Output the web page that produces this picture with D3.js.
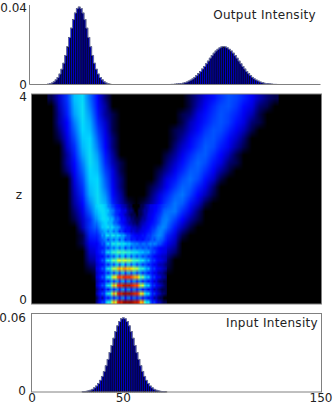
<!DOCTYPE html>
<html>
<head>
<meta charset="utf-8">
<script src="https://cdn.jsdelivr.net/npm/d3@7"></script>
<style>
    html, body { margin: 0; padding: 0; background: #fff; overflow: hidden; }
    text { font-family: "DejaVu Sans", sans-serif; fill: #222; }
</style>
</head>
<body>
<div id="chart"></div>
<script>
// intensities are in units of 1e-4
const outputLeftStart = 8;
const outputLeft = [2,4,8,14,24,36,54,79,110,150,195,243,291,335,369,392,400,392,369,335,291,243,195,150,110,79,54,36,24,14,8,4,2];
const outputRightStart = 72;
const outputRight = [1,1,2,3,4,5,7,10,13,18,23,29,37,46,56,67,80,93,107,121,136,149,162,173,182,189,194,195,194,189,182,173,162,149,136,121,107,93,80,67,56,46,37,29,23,18,13,10,7,5,4,3,2,1,1,1];
const inputStart = 26;
const inputValues = [2,3,6,9,14,21,32,46,65,90,120,158,202,251,303,358,414,465,509,542,563,570,563,542,509,465,414,358,303,251,202,158,120,90,65,46,32,21,14,9,6,3,2,1];

const xTicks = [0, 50, 150];
const zTicks = [0, 4];
const outputTicks = [0, 400];
const inputTicks = [0, 600];

// field, coarse: columns are 4 x-units wide, from heatFirstCol, rows from z=4 down
const heatFirstCol = 2;
const heatColWidth = 4;
const heatRows = [
[1,5,18,35,39,25,10,2,0,0,0,0,0,0,0,0,0,0,1,3,6,12,18,22,20,15,9,4,2,1],
[0,4,16,33,40,27,11,3,0,0,0,0,0,0,0,0,0,0,1,4,9,16,21,22,18,11,6,2,1,0],
[0,3,14,31,40,30,13,3,1,0,0,0,0,0,0,0,0,1,2,6,12,18,22,20,15,8,4,1,0,0],
[0,3,10,27,39,33,16,5,1,0,0,0,0,0,0,0,0,1,4,8,14,20,22,19,12,6,2,1,0,0],
[0,2,9,24,38,35,20,6,1,0,0,0,0,0,0,0,1,2,5,11,18,22,21,15,8,4,1,0,0,0],
[0,1,6,21,36,38,23,8,2,0,0,0,0,0,0,0,1,3,8,15,21,22,18,11,5,2,0,0,0,0],
[0,0,5,17,34,39,26,10,2,0,0,0,0,0,0,0,2,5,11,18,23,21,14,8,3,1,0,0,0,0],
[0,0,3,14,31,40,30,13,3,0,0,0,0,0,0,1,3,8,16,22,23,17,10,4,1,0,0,0,0,0],
[0,0,3,11,27,40,33,16,4,1,0,0,0,0,0,2,5,12,20,24,21,13,6,2,1,0,0,0,0,0],
[0,0,2,9,24,38,35,20,6,1,0,0,0,0,1,3,8,16,23,23,17,9,3,1,0,0,0,0,0,0],
[0,0,0,6,21,37,38,23,7,2,0,0,0,0,2,6,13,21,25,21,12,5,1,0,0,0,0,0,0,0],
[0,0,0,5,18,35,39,25,9,2,0,0,0,1,3,9,18,24,23,15,7,2,0,0,0,0,0,0,0,0],
[0,0,0,4,15,33,40,29,11,3,0,0,0,2,6,15,23,26,20,10,4,1,0,0,0,0,0,0,0,0],
[0,0,0,3,11,28,40,33,15,4,1,0,1,3,10,20,26,23,13,5,1,0,0,0,0,0,0,0,0,0],
[0,0,0,2,7,23,38,37,21,6,1,0,1,4,12,25,26,17,7,2,0,0,0,0,0,0,0,0,0,0],
[0,0,0,1,5,17,33,38,26,9,2,1,2,6,18,27,20,10,3,1,0,0,0,0,0,0,0,0,0,0],
[0,0,0,0,4,18,26,38,30,13,4,2,4,10,22,24,13,4,1,0,0,0,0,0,0,0,0,0,0,0],
[0,0,0,0,1,14,17,33,36,18,8,4,8,16,26,16,6,1,0,0,0,0,0,0,0,0,0,0,0,0],
[0,0,0,0,1,8,11,26,38,24,12,8,14,22,26,9,4,0,0,0,0,0,0,0,0,0,0,0,0,0],
[0,0,0,0,0,5,6,18,36,30,18,14,20,26,16,4,2,0,0,0,0,0,0,0,0,0,0,0,0,0],
[0,0,0,0,0,3,4,11,28,36,26,22,24,24,8,2,0,0,0,0,0,0,0,0,0,0,0,0,0,0],
[0,0,0,0,0,1,2,6,20,36,34,30,28,16,4,1,0,0,0,0,0,0,0,0,0,0,0,0,0,0],
[0,0,0,0,0,0,1,3,14,34,38,34,24,8,2,0,0,0,0,0,0,0,0,0,0,0,0,0,0,0],
[0,0,0,0,0,0,0,1,10,30,40,36,20,4,1,0,0,0,0,0,0,0,0,0,0,0,0,0,0,0],
[0,0,0,0,0,0,0,1,8,28,40,36,18,3,0,0,0,0,0,0,0,0,0,0,0,0,0,0,0,0],
[0,0,0,0,0,0,0,1,8,28,40,36,18,3,0,0,0,0,0,0,0,0,0,0,0,0,0,0,0,0]
];

// field, fine: the fringe window, one x-unit per column from fringeFirstX, z from fringeTopZ to 0
const fringeFirstX = 33;
const fringeTopZ = 1.9;
const fringeRows = [
[37,39,40,39,37,34,28,26,21,18,13,11,8,5,4,3,2,1,1,0,0,0,0,1,1,2,3,4,6,7,9,10,12,14,17,19,21],
[34,37,39,40,39,36,36,29,27,24,17,15,14,8,6,6,3,2,2,1,0,0,1,1,2,3,3,5,6,7,10,11,14,16,20,23,24],
[32,35,37,39,39,37,32,30,26,22,17,15,10,9,6,4,3,2,1,1,1,0,1,1,2,3,4,6,7,9,11,14,16,19,22,25,26],
[29,33,36,39,40,38,39,32,34,28,21,22,17,10,11,7,4,4,2,2,1,1,1,2,3,3,5,6,8,10,13,15,19,21,25,26,27],
[25,29,32,35,37,38,33,34,32,24,24,20,14,12,9,6,5,3,3,2,2,1,2,3,4,5,6,8,10,12,14,17,20,23,26,27,27],
[22,26,30,36,36,38,42,34,40,34,30,30,26,17,16,12,8,8,5,4,4,3,3,4,6,6,8,10,13,16,17,21,25,26,28,28,26],
[18,22,26,28,32,33,26,34,32,24,30,26,16,20,14,9,11,9,5,6,5,4,5,6,7,9,11,13,15,19,21,24,26,28,27,25,22],
[15,18,22,30,26,38,42,32,42,42,34,40,36,30,32,26,20,20,14,12,10,10,8,10,13,11,15,18,18,22,24,26,28,28,26,23,18],
[12,16,20,22,26,28,18,28,30,22,32,30,20,30,26,16,20,20,12,14,14,8,12,12,10,14,17,16,20,23,20,24,26,24,23,20,15],
[9,12,16,22,19,30,38,28,42,44,38,46,44,38,42,38,34,36,30,28,26,28,24,22,26,25,22,26,28,25,28,26,22,22,18,14,11],
[9,12,13,13,17,23,16,25,30,22,32,32,22,32,30,18,26,28,18,26,26,20,24,24,20,23,24,19,22,20,16,15,12,10,9,8,7],
[9,12,15,22,19,34,42,34,46,50,46,54,54,48,52,50,46,48,44,42,40,42,36,34,36,30,30,32,24,20,21,15,12,10,8,7,6],
[7,9,11,10,15,22,14,24,28,20,32,34,22,34,34,20,30,32,20,30,28,20,28,26,19,24,22,16,18,14,10,9,7,6,5,5,4],
[7,10,14,22,18,34,44,36,52,56,52,62,64,58,62,62,58,60,56,52,50,52,46,40,44,34,28,32,22,17,19,12,9,8,6,5,4],
[5,7,10,9,14,22,14,24,30,18,32,34,20,34,36,20,32,34,20,32,30,18,28,26,17,23,20,13,16,12,8,8,5,4,4,3,2],
[6,9,14,22,18,34,46,38,56,62,58,70,74,68,74,74,70,72,68,64,60,62,54,46,50,38,30,34,22,16,19,11,8,7,5,4,3],
[4,6,9,8,14,22,13,24,30,16,30,32,18,32,34,18,30,32,18,30,30,17,27,25,15,22,18,11,15,11,6,7,4,3,3,2,1],
[5,8,14,22,18,34,46,38,58,68,62,78,82,78,84,85,82,84,80,76,72,74,64,52,58,42,32,36,24,16,19,10,7,6,3,3,2],
[3,5,8,7,13,21,12,23,30,15,28,30,16,30,32,16,28,30,16,28,28,16,26,24,13,21,17,10,15,10,5,6,3,2,2,1,1],
[4,7,14,22,18,34,46,40,60,74,62,82,88,84,92,93,90,92,88,84,80,82,72,58,64,46,34,38,24,15,18,9,6,5,3,2,1],
[2,4,7,5,12,20,11,22,28,14,26,28,14,28,30,14,26,28,14,26,26,15,25,23,12,20,16,8,14,9,4,5,3,2,1,1,1],
[3,6,13,21,17,34,46,40,60,76,62,86,92,88,96,97,94,96,94,90,86,88,78,64,70,50,36,40,24,14,18,8,5,4,2,2,1],
[1,3,6,3,10,18,10,20,26,12,24,26,12,26,28,12,24,26,12,24,24,14,24,22,10,18,14,6,12,8,3,4,2,1,1,0,0],
[2,5,12,20,16,34,46,40,60,74,62,85,92,88,97,98,96,98,97,94,90,92,84,70,76,54,38,42,24,14,18,8,4,4,2,1,1]
];

const colorStops = [0, 1, 3, 6, 10, 20, 30, 38, 52, 66, 82, 100];
const colorValues = ['#000000', '#00004c', '#00009c', '#0000e0', '#0000ff', '#0040ff', '#0098ff', '#00d8ff', '#40ffc0', '#ffff00', '#ff3000', '#800000'];

const w = 333;
const h = 405;
const grey = '#808080';

const color = d3.scaleLinear().domain(colorStops).range(colorValues).clamp(true);

const x = d3.scaleLinear().domain([0, 150]).range([32, 321]);
const z = d3.scaleLinear().domain([0, 4]).range([304, 94]);
const yOut = d3.scaleLinear().domain([0, 400]).range([84.5, 7]);
const yIn = d3.scaleLinear().domain([0, 600]).range([392, 314]);

const svg = d3.select('#chart').append('svg')
    .attr('width', w)
    .attr('height', h)
    .style('display', 'block');

// paints rows one canvas pixel per cell, the browser smooths it when it is scaled up
const rowsToImage = (rows, x0, x1, z0, z1) => {
    const cv = document.createElement('canvas');
    cv.width = rows[0].length;
    cv.height = rows.length;
    const ctx = cv.getContext('2d');
    rows.forEach((row, r) => {
        row.forEach((v, c) => {
            ctx.fillStyle = color(v);
            ctx.fillRect(c, r, 1, 1);
        });
    });
    svg.append('image')
        .attr('href', cv.toDataURL())
        .attr('x', x(x0))
        .attr('y', z(z0))
        .attr('width', x(x1) - x(x0))
        .attr('height', z(z1) - z(z0))
        .attr('preserveAspectRatio', 'none');
};

svg.append('rect')
    .attr('x', x(0))
    .attr('y', z(4))
    .attr('width', x(150) - x(0))
    .attr('height', z(0) - z(4))
    .attr('fill', 'black');

rowsToImage(heatRows, heatFirstCol * heatColWidth, (heatFirstCol + heatRows[0].length) * heatColWidth, 4, 0);
rowsToImage(fringeRows, fringeFirstX, fringeFirstX + fringeRows[0].length, fringeTopZ, 0);

svg.append('rect')
    .attr('x', x(0) - 0.5)
    .attr('y', z(4))
    .attr('width', x(150) - x(0) + 1)
    .attr('height', z(0) - z(4))
    .attr('fill', 'none')
    .attr('stroke', grey);

const drawBars = (values, start, y) => {
    const g = svg.append('g');
    g.selectAll('rect')
        .data(values)
        .join('rect')
        .attr('x', (d, i) => x(start + i))
        .attr('y', d => y(d))
        .attr('width', x(1) - x(0))
        .attr('height', d => y(0) - y(d))
        .attr('fill', '#0000c0')
        .attr('stroke', 'black')
        .attr('stroke-width', 0.65);
    const line = d3.line()
        .x((d, i) => x(start + i))
        .y(d => y(d))
        .curve(d3.curveStepAfter);
    g.append('path')
        .attr('d', line(values))
        .attr('fill', 'none')
        .attr('stroke', '#8088c4')
        .attr('stroke-width', 0.8);
};

drawBars(outputLeft, outputLeftStart, yOut);
drawBars(outputRight, outputRightStart, yOut);
drawBars(inputValues, inputStart, yIn);

// top panel has only left and bottom spines, bottom one has a full box
const spine = (x1, y1, x2, y2) => svg.append('line')
    .attr('x1', x1).attr('y1', y1).attr('x2', x2).attr('y2', y2)
    .attr('stroke', grey);

spine(29.5, 5, 29.5, 84.5);
spine(29.5, 84.5, 320.5, 84.5);

svg.append('rect')
    .attr('x', x(0) - 0.5)
    .attr('y', 313.5)
    .attr('width', x(150) - x(0) + 1)
    .attr('height', 78.5)
    .attr('fill', 'none')
    .attr('stroke', grey);

const label = (s, px, py, anchor) => svg.append('text')
    .attr('x', px)
    .attr('y', py)
    .attr('text-anchor', anchor)
    .attr('font-size', 12)
    .style('letter-spacing', s.length > 4 ? '0.32px' : null)
    .text(s);

outputTicks.forEach(t => label(t ? (t / 1e4).toFixed(2) : '0', 27, yOut(t) + (t ? 5 : 4), 'end'));
zTicks.forEach(t => label(String(t), 27, z(t) + (t ? 7 : 0), 'end'));
inputTicks.forEach(t => label(t ? (t / 1e4).toFixed(2) : '0', 26, yIn(t) + (t ? 8 : 3), 'end'));
xTicks.forEach(t => label(String(t), x(t) - (t === 50 ? 5 : 0), 402, 'middle'));

label('z', 19, 199, 'middle');
label('Output Intensity', 316, 19, 'end');
label('Input Intensity', 318, 327, 'end');
</script>
</body>
</html>
